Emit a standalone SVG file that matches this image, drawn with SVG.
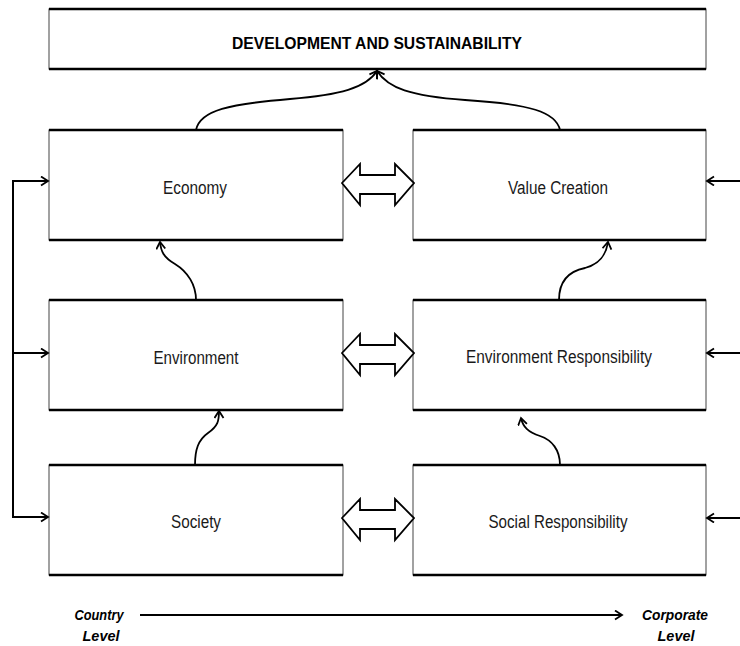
<svg xmlns="http://www.w3.org/2000/svg" width="740" height="646" viewBox="0 0 740 646">
<style>
.box{fill:#fff;stroke:#444;stroke-width:1}
.edge{fill:none;stroke:#000;stroke-width:2.5}
.lbl{font-family:"Liberation Sans",Arial,sans-serif;font-size:18px;fill:#1a1a1a;text-anchor:middle}
.title{font-family:"Liberation Sans",Arial,sans-serif;font-size:17px;font-weight:bold;fill:#000;text-anchor:middle}
.lvl{font-family:"Liberation Sans",Arial,sans-serif;font-size:15px;font-weight:bold;font-style:italic;fill:#000;text-anchor:middle}
.con{fill:none;stroke:#000;stroke-width:1.8}
.fb{fill:none;stroke:#000;stroke-width:2}
.dbl{fill:#fff;stroke:#000;stroke-width:1.8;stroke-linejoin:miter}
</style>
<defs>
<marker id="ah" markerUnits="userSpaceOnUse" markerWidth="12" markerHeight="12" refX="8" refY="5" orient="auto">
<path d="M1,0.5 L8,5 L1,9.5" fill="none" stroke="#000" stroke-width="1.8"/>
</marker>
<polygon id="dbl" points="0,0 18,-19 18,-8 53,-8 53,-19 72,0 53,22 53,11 18,11 18,22"/>
</defs>

<g id="development">
<rect class="box" x="49" y="9" width="657" height="60"/>
<path class="edge" d="M49,9 H706 M49,69 H706"/>
<text class="title" x="377" y="49" textLength="290" lengthAdjust="spacingAndGlyphs">DEVELOPMENT AND SUSTAINABILITY</text>
</g>

<g id="economy">
<rect class="box" x="49" y="130" width="294" height="110"/>
<path class="edge" d="M49,130 H343 M49,240 H343"/>
<text class="lbl" x="195" y="194" textLength="64" lengthAdjust="spacingAndGlyphs">Economy</text>
</g>

<g id="value-creation">
<rect class="box" x="413" y="130" width="293" height="110"/>
<path class="edge" d="M413,130 H706 M413,240 H706"/>
<text class="lbl" x="558" y="194" textLength="100" lengthAdjust="spacingAndGlyphs">Value Creation</text>
</g>

<g id="environment">
<rect class="box" x="49" y="300" width="294" height="110"/>
<path class="edge" d="M49,300 H343 M49,410 H343"/>
<text class="lbl" x="196" y="364" textLength="85" lengthAdjust="spacingAndGlyphs">Environment</text>
</g>

<g id="environment-responsibility">
<rect class="box" x="413" y="300" width="293" height="110"/>
<path class="edge" d="M413,300 H706 M413,410 H706"/>
<text class="lbl" x="559" y="363" textLength="186" lengthAdjust="spacingAndGlyphs">Environment Responsibility</text>
</g>

<g id="society">
<rect class="box" x="49" y="465" width="294" height="110"/>
<path class="edge" d="M49,465 H343 M49,575 H343"/>
<text class="lbl" x="196" y="528" textLength="50" lengthAdjust="spacingAndGlyphs">Society</text>
</g>

<g id="social-responsibility">
<rect class="box" x="413" y="465" width="293" height="110"/>
<path class="edge" d="M413,465 H706 M413,575 H706"/>
<text class="lbl" x="558" y="528" textLength="139" lengthAdjust="spacingAndGlyphs">Social Responsibility</text>
</g>

<g id="country-level">
<text class="lvl" x="99" y="620" textLength="49" lengthAdjust="spacingAndGlyphs">Country</text>
<text class="lvl" x="101" y="641" textLength="37" lengthAdjust="spacingAndGlyphs">Level</text>
</g>

<g id="corporate-level">
<text class="lvl" x="675" y="620" textLength="66" lengthAdjust="spacingAndGlyphs">Corporate</text>
<text class="lvl" x="676" y="641" textLength="37" lengthAdjust="spacingAndGlyphs">Level</text>
</g>

<g id="connectors">
<path class="con" d="M196,130 C200,110 230,104 290,99 C340,95 366,88 377,71" marker-end="url(#ah)"/>
<path class="con" d="M560,130 C556,112 530,104 465,100 C410,96 388,88 377,71" marker-end="url(#ah)"/>
<path class="con" d="M196,300 C196,285 188,272 175,264 C163,257 161,251 160,242" marker-end="url(#ah)"/>
<path class="con" d="M559,300 C559,285 565,272 585,268 C600,264 606,255 608,242" marker-end="url(#ah)"/>
<path class="con" d="M195,465 C195,450 198,440 208,433 C218,426 219,421 219,411" marker-end="url(#ah)"/>
<path class="con" d="M560,465 C560,450 552,440 540,436 C528,432 523,427 521,418" marker-end="url(#ah)"/>
<path class="fb" d="M48,181 H13 V517 H48"/>
<path class="fb" d="M40,181 H48" marker-end="url(#ah)"/>
<path class="fb" d="M13,353 H48" marker-end="url(#ah)"/>
<path class="fb" d="M40,517 H48" marker-end="url(#ah)"/>
<path class="fb" d="M740,181 H707" marker-end="url(#ah)"/>
<path class="con" d="M740,353 H707" marker-end="url(#ah)"/>
<path class="con" d="M740,518 H707" marker-end="url(#ah)"/>
<path class="fb" d="M140,615 H622" marker-end="url(#ah)"/>
<use href="#dbl" class="dbl" x="342" y="183"/>
<use href="#dbl" class="dbl" x="342" y="353"/>
<use href="#dbl" class="dbl" x="342" y="518"/>
</g>
</svg>
